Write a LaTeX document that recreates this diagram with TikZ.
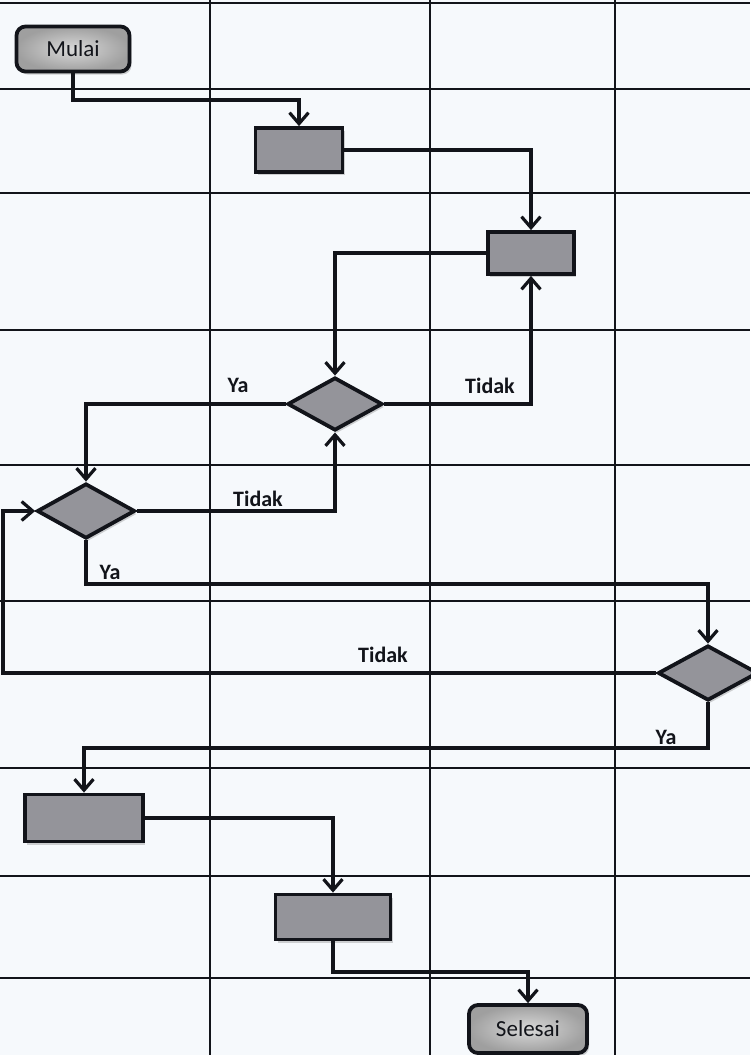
\documentclass[tikz,border=0pt]{standalone}
\usepackage{fontspec}
\setmainfont{Carlito}
\usetikzlibrary{arrows.meta,shapes.geometric,shadows}
\definecolor{bgcol}{RGB}{246,249,252}
\definecolor{inkcol}{RGB}{18,20,26}
\definecolor{boxgray}{RGB}{148,148,154}
\tikzset{
  gridline/.style={line width=2.4pt, draw=inkcol},
  flow/.style={line width=3.2pt, draw=inkcol, -{Straight Barb[length=11pt,width=19pt]}},
  nodebase/.style={draw=inkcol, line width=3.8pt, inner sep=0pt,
    drop shadow={shadow xshift=2pt, shadow yshift=-3pt, opacity=0.35}},
  procbox/.style={nodebase, rectangle, fill=boxgray},
  termbox/.style={nodebase, rectangle, rounded corners=9pt,
    shading=radial, inner color=gray!30, outer color=gray!75,
    font=\fontsize{23}{26}\selectfont, text=inkcol},
  decbox/.style={nodebase, diamond, fill=boxgray},
  lbl/.style={font=\bfseries\fontsize{22}{26}\selectfont, text=inkcol, inner sep=0pt}
}
\begin{document}
\begin{tikzpicture}[x=1pt,y=-1pt]
\fill[bgcol] (0,0) rectangle (750,1055);
\useasboundingbox (0,0) rectangle (750,1055);
% swimlane grid
\foreach \gx in {210,430,615} \draw[gridline] (\gx,0) -- (\gx,1055);
\foreach \gy in {3,89,193,330,465,601,768,876,978} \draw[gridline] (0,\gy) -- (750,\gy);
% nodes
\node[termbox, minimum width=113pt, minimum height=45pt] (mulai) at (73,49) {Mulai};
\node[procbox, minimum width=87pt, minimum height=44pt] (box1) at (299,150) {};
\node[procbox, minimum width=86pt, minimum height=42pt] (box2) at (531,253) {};
\node[decbox, minimum width=95pt, minimum height=53pt] (d1) at (335,404) {};
\node[decbox, minimum width=98pt, minimum height=55pt] (d2) at (86,511) {};
\node[decbox, minimum width=100pt, minimum height=55pt] (d3) at (708,673) {};
\node[procbox, minimum width=118pt, minimum height=47pt] (box3) at (84,818) {};
\node[procbox, minimum width=115pt, minimum height=45pt] (box4) at (333,917) {};
\node[termbox, minimum width=118pt, minimum height=48pt] (selesai) at (528,1029) {Selesai};
\coordinate (loopleft) at (3,511);
% connectors
\draw[flow] (mulai.south) -- (mulai.south |- 0,100) -| (box1.north);
\draw[flow] (box1.east) -| (box2.north);
\draw[flow] (box2.west) -| (d1.north);
\draw[flow] (d1.east) -| (box2.south);
\draw[flow] (d1.west) -| (d2.north);
\draw[flow] (d2.east) -| (d1.south);
\draw[flow] (d2.south) -- (d2.south |- 0,584) -| (d3.north);
\draw[flow] (d3.west) -| (loopleft) -- (d2.west);
\draw[flow] (d3.south) -- (d3.south |- 0,748) -| (box3.north);
\draw[flow] (box3.east) -| (box4.north);
\draw[flow] (box4.south) -- (box4.south |- 0,972) -| (selesai.north);
% labels
\node[lbl] (lya1) at (238,385) {Ya};
\node[lbl] (ltidak1) at (490,386) {Tidak};
\node[lbl] (ltidak2) at (258,499) {Tidak};
\node[lbl] (lya2) at (110,572) {Ya};
\node[lbl] (ltidak3) at (383,655) {Tidak};
\node[lbl] (lya3) at (666,737) {Ya};
\end{tikzpicture}
\end{document}
